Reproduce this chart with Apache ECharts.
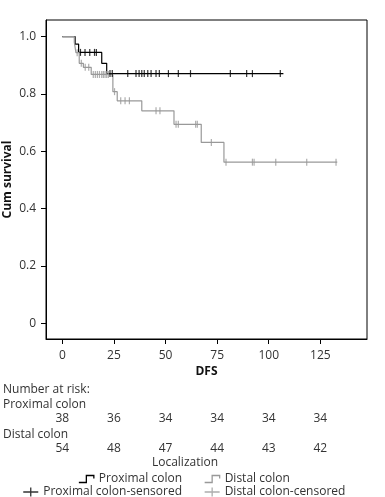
<!DOCTYPE html>
<html>
<head>
<meta charset="utf-8">
<script src="https://cdn.jsdelivr.net/npm/echarts@6/dist/echarts.min.js"></script>
<style>
html,body{margin:0;padding:0;background:#fff;}
#c{width:385px;height:497px;}
</style>
</head>
<body>
<div id="c"></div>
<script>
// ---- data ----
const xTicks = [0, 25, 50, 75, 100, 125];
const yTicks = [0, 0.2, 0.4, 0.6, 0.8, 1.0];
const proxAtRisk = [38, 36, 34, 34, 34, 34];
const distAtRisk = [54, 48, 47, 44, 43, 42];

const proxEventTimes = [0, 6.2, 7.9, 19.1, 21.5];
const proxSurvival = [1.0, 0.974, 0.945, 0.907, 0.871];
const proxEndTime = 107.1;
const proxCensored = [8.8, 11.0, 13.3, 15.6, 16.5, 23.1, 24.2, 31.7, 35.7, 37.2, 38.5, 39.7, 41.4, 43.0, 45.4, 47.0, 51.4, 56.2, 62.1, 81.4, 89.3, 92.1, 105.6];

const distEventTimes = [0, 5.8, 6.6, 8.2, 10.2, 14.0, 24.5, 26.6, 38.5, 54.1, 67.3, 78.3];
const distSurvival = [1.0, 0.981, 0.944, 0.907, 0.893, 0.868, 0.808, 0.776, 0.741, 0.694, 0.631, 0.562];
const distEndTime = 133.2;
const distCensored = [7.2, 9.2, 11.1, 12.8, 15.0, 16.0, 17.0, 18.0, 19.1, 19.9, 20.7, 21.5, 22.3, 25.3, 28.3, 30.4, 32.5, 45.4, 47.3, 55.1, 56.2, 64.6, 65.4, 72.2, 79.3, 92.1, 92.9, 103.4, 118.4, 132.6];

// ---- helpers ----
function stepPoints(times, surv, end) {
  const pts = times.map((t, i) => [t, surv[i]]);
  pts.push([end, surv[surv.length - 1]]);
  return pts;
}
function survAt(times, surv, t) {
  let v = surv[0];
  for (let i = 0; i < times.length; i++) { if (times[i] <= t) v = surv[i]; }
  return v;
}

const FONT = 'Open Sans';
const BLACK = '#000';
const GRAY = '#999';
const XMIN = -7.9, XMAX = 147.6;

const chart = echarts.init(document.getElementById('c'), null, {renderer: 'canvas'});

const riskAxis = (gi, arr) => ({
  type: 'value', gridIndex: gi, min: XMIN, max: XMAX,
  axisLine: {show: false, onZero: false}, axisTick: {show: false}, splitLine: {show: false},
  axisLabel: {
    customValues: xTicks, margin: 0,
    formatter: v => String(arr[xTicks.indexOf(v)]),
    fontFamily: FONT, fontSize: 12, color: '#333'
  }
});

const stepIcon = 'path://M0,8 L7,8 L7,1 L14,1 L14,4';
const plusIcon = 'path://M0,5 L16,5 M8,0 L8,10';
const legendBase = {padding: 0, selectedMode: false, symbolKeepAspect: false,
  textStyle: {fontFamily: FONT, fontSize: 12, color: '#333'}};

const option = {
  animation: false,
  backgroundColor: '#fff',
  grid: [
    {left: 46, top: 20, width: 321, height: 319, show: true, borderColor: '#000', borderWidth: 1, containLabel: false, outerBoundsMode: 'none'},
    {left: 46, top: 412, width: 321, height: 1, outerBoundsMode: 'none'},
    {left: 46, top: 442, width: 321, height: 1, outerBoundsMode: 'none'}
  ],
  xAxis: [
    {
      type: 'value', gridIndex: 0, min: XMIN, max: XMAX,
      name: 'DFS', nameLocation: 'middle', nameGap: 27, nameMoveOverlap: false,
      nameTextStyle: {fontFamily: FONT, fontSize: 12, fontWeight: 'bold', color: '#111'},
      axisLine: {show: true, onZero: false, lineStyle: {color: '#000', width: 1}},
      axisTick: {show: true, customValues: xTicks, length: 5, lineStyle: {color: '#000', width: 1}},
      splitLine: {show: false},
      axisLabel: {customValues: xTicks, margin: 11, fontFamily: FONT, fontSize: 12, color: '#333'}
    },
    riskAxis(1, proxAtRisk),
    riskAxis(2, distAtRisk)
  ],
  yAxis: [
    {
      type: 'value', gridIndex: 0, min: -0.055, max: 1.058,
      name: 'Cum survival', nameLocation: 'middle', nameGap: 32, nameMoveOverlap: false,
      nameTextStyle: {fontFamily: FONT, fontSize: 12, fontWeight: 'bold', color: '#111'},
      axisLine: {show: true, onZero: false, lineStyle: {color: '#000', width: 1}},
      axisTick: {show: true, customValues: yTicks, length: 5, lineStyle: {color: '#000', width: 1}},
      splitLine: {show: false},
      axisLabel: {customValues: yTicks, margin: 10, fontFamily: FONT, fontSize: 12, color: '#333',
        formatter: v => (v === 0 ? '0' : v.toFixed(1))}
    },
    {type: 'value', gridIndex: 1, show: false},
    {type: 'value', gridIndex: 2, show: false}
  ],
  legend: [
    Object.assign({}, legendBase, {data: [{name: 'Proximal colon', icon: stepIcon, itemStyle: {color: 'rgba(0,0,0,0)', borderColor: BLACK, borderWidth: 1.3}}],
      right: 203, top: 473, itemWidth: 15, itemHeight: 7}),
    Object.assign({}, legendBase, {data: [{name: 'Proximal colon-sensored', icon: plusIcon, itemStyle: {color: 'rgba(0,0,0,0)', borderColor: BLACK, borderWidth: 1.3}}],
      right: 203, top: 486, itemWidth: 15, itemHeight: 9}),
    Object.assign({}, legendBase, {data: [{name: 'Distal colon', icon: stepIcon, itemStyle: {color: 'rgba(0,0,0,0)', borderColor: GRAY, borderWidth: 1.3}}],
      left: 204, top: 473, itemWidth: 15, itemHeight: 7}),
    Object.assign({}, legendBase, {data: [{name: 'Distal colon-censored', icon: plusIcon, itemStyle: {color: 'rgba(0,0,0,0)', borderColor: GRAY, borderWidth: 1.3}}],
      left: 204, top: 486, itemWidth: 15, itemHeight: 9})
  ],
  graphic: [
    {type: 'text', left: 3, top: 384, style: {text: 'Number at risk:', font: '12px "' + FONT + '"', fill: '#333'}},
    {type: 'text', left: 3, top: 399, style: {text: 'Proximal colon', font: '12px "' + FONT + '"', fill: '#333'}},
    {type: 'text', left: 3, top: 429, style: {text: 'Distal colon', font: '12px "' + FONT + '"', fill: '#333'}},
    {type: 'text', x: 185, y: 463, style: {text: 'Localization', font: '12px "' + FONT + '"', fill: '#333', align: 'center', verticalAlign: 'middle'}}
  ],
  series: [
    {name: 'Proximal colon', type: 'line', step: 'end', xAxisIndex: 0, yAxisIndex: 0,
      data: stepPoints(proxEventTimes, proxSurvival, proxEndTime), symbol: 'none',
      lineStyle: {color: BLACK, width: 1.2}, itemStyle: {color: BLACK}, z: 2},
    {name: 'Distal colon', type: 'line', step: 'end', xAxisIndex: 0, yAxisIndex: 0,
      data: stepPoints(distEventTimes, distSurvival, distEndTime), symbol: 'none',
      lineStyle: {color: GRAY, width: 1.2}, itemStyle: {color: GRAY}, z: 3},
    {name: 'Proximal colon-sensored', type: 'scatter', xAxisIndex: 0, yAxisIndex: 0,
      data: proxCensored.map(t => [t, survAt(proxEventTimes, proxSurvival, t)]),
      symbol: 'rect', symbolSize: [1.2, 7], itemStyle: {color: BLACK}, z: 4},
    {name: 'Distal colon-censored', type: 'scatter', xAxisIndex: 0, yAxisIndex: 0,
      data: distCensored.map(t => [t, survAt(distEventTimes, distSurvival, t)]),
      symbol: 'rect', symbolSize: [1.2, 7], itemStyle: {color: GRAY}, z: 4}
  ]
};
chart.setOption(option);
</script>
</body>
</html>
